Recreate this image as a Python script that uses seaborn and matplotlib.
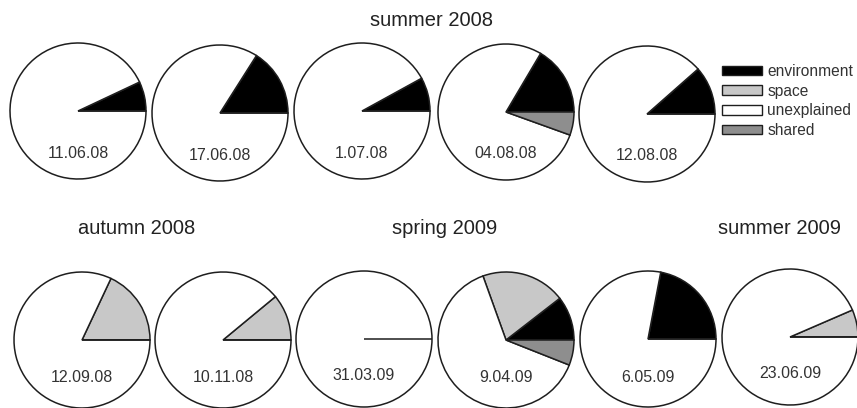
import matplotlib
matplotlib.use("Agg")
import matplotlib.pyplot as plt
from matplotlib.patches import Patch
import seaborn as sns

# Variance partitioning (%) for each sampling date
dates = ["11.06.08", "17.06.08", "1.07.08", "04.08.08", "12.08.08",
         "12.09.08", "10.11.08", "31.03.09", "9.04.09", "6.05.09", "23.06.09"]
environment = [7.0, 16.0, 8.0, 16.5, 11.5, 0.0, 0.0, 0.0, 10.5, 22.0, 0.0]
space = [0.0, 0.0, 0.0, 0.0, 0.0, 18.0, 11.0, 0.0, 20.0, 0.0, 6.5]
unexplained = [93.0, 84.0, 92.0, 78.0, 88.5, 82.0, 89.0, 100.0, 63.5, 78.0, 93.5]
shared = [0.0, 0.0, 0.0, 5.5, 0.0, 0.0, 0.0, 0.0, 6.0, 0.0, 0.0]

components = ["environment", "space", "unexplained", "shared"]
seasons = ["summer 2008", "autumn 2008", "spring 2009", "summer 2009"]

sns.set_theme(style="white")
plt.rcParams["font.family"] = ["Liberation Sans", "DejaVu Sans"]

colors = ["#000000", "#c8c8c8", "#ffffff", "#8e8e8e"]
edge = "#1e1e1e"

W, H = 857, 408
fig = plt.figure(figsize=(W / 100, H / 100), dpi=100)
fig.patch.set_facecolor("white")

R = 68
centers = [(78, 111), (220, 113), (362, 111), (506, 112), (647, 114),
           (82, 340), (223, 340), (364, 339), (506, 340), (648, 339), (790, 337)]
label_drop = [42, 43, 42, 42, 42, 37, 37, 37, 38, 39, 37]

for i, (cx, cy) in enumerate(centers):
    ax = fig.add_axes([(cx - R) / W, 1 - (cy + R) / H, 2 * R / W, 2 * R / H])
    vals = [environment[i], space[i], unexplained[i], shared[i]]
    wedges, _ = ax.pie(vals, colors=colors, startangle=0, counterclock=True,
                       radius=1.0,
                       wedgeprops=dict(edgecolor=edge, linewidth=1.1))
    for w in wedges:
        w.set_clip_on(False)
    ax.set_xlim(-1, 1)
    ax.set_ylim(-1, 1)
    ax.set_aspect("equal")
    ax.axis("off")
    ax.text(0, -label_drop[i] / R, dates[i], ha="center", va="center",
            fontsize=11.5, color="#333333")

season_pos = [(431, 21), (137, 228), (445, 228), (779, 228)]
for name, (x, y) in zip(seasons, season_pos):
    fig.text(x / W, 1 - y / H, name, ha="center", va="center",
             fontsize=14.5, color="#222222")

handles = [Patch(facecolor=c, edgecolor=edge, linewidth=1.0) for c in colors]
fig.legend(handles, components, loc="upper left",
           bbox_to_anchor=(722 / W, 1 - 64 / H), frameon=False,
           fontsize=11.2, handlelength=2.6, handleheight=0.55,
           handletextpad=0.3, labelspacing=0.3, borderpad=0,
           borderaxespad=0, labelcolor="#333333")

fig.savefig("out.png", dpi=100, facecolor="white")
